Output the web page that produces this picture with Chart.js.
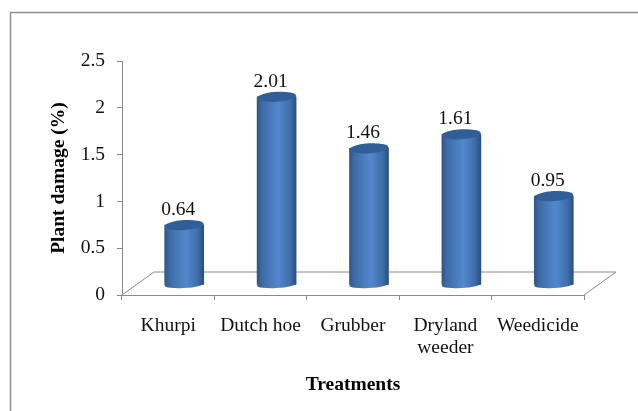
<!DOCTYPE html>
<html>
<head>
<meta charset="utf-8">
<style>
  html, body { margin: 0; padding: 0; background: #fff; }
  #wrap { width: 638px; height: 411px; }
</style>
<script src="https://cdn.jsdelivr.net/npm/chart.js@4/dist/chart.umd.js"></script>
</head>
<body>
<div id="wrap"><canvas id="c"></canvas></div>
<script>
const categories = ["Khurpi", "Dutch hoe", "Grubber", ["Dryland", "weeder"], "Weedicide"];
const plantDamage = [0.64, 2.01, 1.46, 1.61, 0.95];
const valueTicks = [0, 0.5, 1, 1.5, 2, 2.5];

const FONT = '"Liberation Serif", "Times New Roman", serif';
const AXIS_GREY = "#8a8a8a";
// the 3D look: floor depth and where the cylinders sit on it
const DEPTH_X = 32, DEPTH_Y = 23;
const SHIFT_X = 16, SHIFT_Y = 10;
const CAP_RY = 5, BOTTOM_RY = 3.5, TILT = -0.06;

function barGradient(c, left, right) {
    const g = c.createLinearGradient(left, 0, right, 0);
    g.addColorStop(0, "#2f5688");
    g.addColorStop(0.12, "#3d6ba6");
    g.addColorStop(0.55, "#5288cc");
    g.addColorStop(0.85, "#3f6da8");
    g.addColorStop(1, "#2c4f7c");
    return g;
}

const frameAndFloor = {
    id: "frameAndFloor",
    beforeDraw(chart) {
        const c = chart.ctx, a = chart.chartArea;
        c.save();
        c.fillStyle = "#fff";
        c.fillRect(0, 0, chart.width, chart.height);
        c.strokeStyle = "#8e8e8e";
        c.lineWidth = 1.5;
        c.beginPath();
        c.moveTo(10.5, 411);
        c.lineTo(10.5, 12.5);
        c.lineTo(638, 12.5);
        c.stroke();
        c.strokeStyle = AXIS_GREY;
        c.lineWidth = 1;
        c.beginPath();
        c.moveTo(a.left, a.bottom);
        c.lineTo(a.left + DEPTH_X, a.bottom - DEPTH_Y);
        c.lineTo(a.right + DEPTH_X, a.bottom - DEPTH_Y);
        c.lineTo(a.right, a.bottom);
        c.stroke();
        c.restore();
    }
};

const cylinders = {
    id: "cylinders",
    beforeDatasetsDraw(chart) {
        chart.ctx.save();
        chart.ctx.translate(SHIFT_X, -SHIFT_Y);
    },
    afterDatasetsDraw(chart) {
        const c = chart.ctx;
        const bars = chart.getDatasetMeta(0).data;
        bars.forEach(bar => {
            const rx = bar.width / 2;
            // round bottom
            c.fillStyle = barGradient(c, bar.x - rx, bar.x + rx);
            c.beginPath();
            c.ellipse(bar.x, bar.base, rx, BOTTOM_RY, TILT, 0, Math.PI * 2);
            c.fill();
            // top cap
            c.fillStyle = "#2f5f96";
            c.beginPath();
            c.ellipse(bar.x, bar.y, rx, CAP_RY, TILT, 0, Math.PI * 2);
            c.fill();
        });
        c.restore();
        // value labels
        c.save();
        c.fillStyle = "#111";
        c.font = "19.5px " + FONT;
        c.textAlign = "center";
        c.textBaseline = "middle";
        bars.forEach((bar, i) => {
            c.fillText(plantDamage[i].toFixed(2), bar.x + SHIFT_X - 6, bar.y - SHIFT_Y - 15);
        });
        c.restore();
    }
};

new Chart(document.getElementById("c"), {
    type: "bar",
    data: {
        labels: categories,
        datasets: [{
            data: plantDamage,
            barThickness: 39,
            borderWidth: 0,
            backgroundColor(ctx) {
                const x = ctx.chart.scales.x.getPixelForValue(ctx.dataIndex);
                if (!Number.isFinite(x)) return "#4a7ebb";
                return barGradient(ctx.chart.ctx, x - 19.5, x + 19.5);
            }
        }]
    },
    plugins: [frameAndFloor, cylinders],
    options: {
        responsive: true,
        maintainAspectRatio: false,
        animation: false,
        layout: { padding: { top: 61, right: 54, bottom: 0, left: 0 } },
        plugins: { legend: { display: false }, tooltip: { enabled: false } },
        scales: {
            x: {
                afterFit(s) { s.height = 116; },
                border: { color: AXIS_GREY, width: 1 },
                grid: { drawOnChartArea: false, color: AXIS_GREY, tickLength: 5 },
                ticks: {
                    color: "#111",
                    padding: 15,
                    maxRotation: 0,
                    autoSkip: false,
                    font: { family: FONT, size: 19.5, lineHeight: 1.13 }
                },
                title: {
                    display: true,
                    text: "Treatments",
                    color: "#000",
                    font: { family: FONT, size: 19.5, weight: "bold" },
                    padding: { top: 20, bottom: 14 }
                }
            },
            y: {
                min: 0,
                max: 2.5,
                afterFit(s) { s.width = 122; },
                afterBuildTicks(s) { s.ticks = valueTicks.map(v => ({ value: v })); },
                border: { color: AXIS_GREY, width: 1 },
                grid: { drawOnChartArea: false, color: AXIS_GREY, tickLength: 5 },
                ticks: {
                    color: "#111",
                    padding: 12,
                    font: { family: FONT, size: 19.5 },
                    callback: v => String(v)
                },
                title: {
                    display: true,
                    text: "Plant damage (%)",
                    color: "#000",
                    font: { family: FONT, size: 19.5, weight: "bold" },
                    padding: { top: 47, bottom: 0 }
                }
            }
        }
    }
});
</script>
</body>
</html>
